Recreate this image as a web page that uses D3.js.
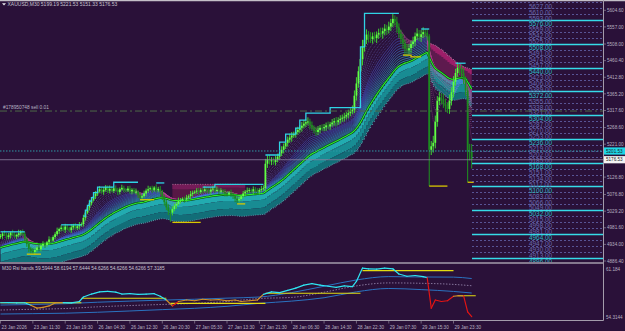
<!DOCTYPE html>
<html>
<head>
<meta charset="utf-8">
<script src="https://cdn.jsdelivr.net/npm/d3@7"></script>
<style>
  html, body { margin: 0; padding: 0; background: #2a1139; }
  svg { display: block; font-family: "Liberation Sans", Arial, sans-serif; }
</style>
</head>
<body>
<div id="chart"></div>
<script>
// ---- data (XAUUSD M30) ----
const firstOpen = 4955;
const closes = [
  4958, 4965, 4962, 4955, 4960, 4968, 4963, 4957, 4961, 4966, 4970, 4964,
  4950, 4935, 4922, 4915, 4912,
  4918, 4925, 4920, 4930, 4935,
  4932, 4940, 4948, 4945, 4955, 4963, 4972,
  4978, 4982, 4976, 4985, 4980, 4975, 4983, 4988, 4981, 4986, 4990, 4992,
  5010, 5025, 5040, 5052, 5062, 5072, 5080,
  5086, 5092, 5085, 5090, 5098, 5088, 5093, 5087, 5095, 5090, 5084, 5092, 5096, 5091, 5089, 5094, 5086, 5090, 5083, 5085,
  5075, 5068, 5072, 5080,
  5088, 5092, 5095, 5090, 5097, 5089, 5093, 5085,
  5070, 5055, 5040, 5030, 5025, 5035, 5045,
  5050, 5058, 5060, 5065, 5062, 5068, 5072,
  5078, 5082, 5085, 5088, 5084, 5090, 5087, 5092, 5089, 5085, 5091, 5094, 5088, 5090, 5086, 5088,
  5084, 5080, 5078, 5082, 5076, 5072, 5065, 5060, 5064, 5072,
  5080, 5085, 5088, 5090, 5086, 5092, 5088, 5085, 5090, 5093,
  5095,
  5165, 5178, 5172, 5175,
  5170, 5176, 5185, 5195,
  5205, 5215, 5225, 5234, 5240, 5246, 5250,
  5256, 5262, 5268, 5274, 5280, 5284, 5286,
  5276, 5268, 5262, 5256, 5262, 5268,
  5267, 5270, 5275, 5272, 5278, 5283, 5287, 5284, 5290, 5294,
  5297, 5300, 5305, 5310, 5315, 5320,
  5360, 5395, 5430, 5465, 5500,
  5520, 5535, 5528, 5522, 5530, 5525, 5535, 5540, 5538,
  5545, 5552, 5548, 5558, 5568, 5580, 5572,
  5555, 5538, 5522, 5510, 5495, 5490,
  5496, 5508, 5515, 5530, 5538, 5528,
  5536, 5542, 5540, 5530,
  5205,
  5215, 5225, 5285,
  5345, 5355, 5350, 5338, 5330,
  5322, 5345, 5370,
  5400, 5425, 5440,
  5436, 5425, 5405,
  5375, 5200, 5199.19, 5176.53
];
const upTail = [
  6,4,9,5,7,3,8,6,4,10,5,7,6,4,8,5,9,6,4,7,
  5,8,6,4,9,7,5,6,10,4,7,5,8,6,4,9,5,7,6,8,
  5,9,7,6,10,8,5,7,6,9,4,8,6,5,10,7,4,8,6,5,
  9,6,4,7,8,5,6,9,4,7,5,8,6,10,5,7,4,9,6,8,
  5,7,6,9,4,8,6,5,10,7,4,6,8,5,9,6,4,7,8,5,
  6,9,4,7,5,8,6,10,5,7,4,8,6,5,9,7,4,6,8,5,
  7,5,9,6,4,8,6,7,5,9,8,14,10,12,9,8,11,9,12,10,
  8,12,9,11,10,7,12,9,8,11,10,9,12,8,10,7,9,11,8,10,
  9,8,11,7,10,9,12,8,10,9,11,8,10,9,12,15,18,14,16,20,
  12,15,10,14,11,13,9,12,15,10,13,11,14,12,16,10,14,12,11,15,
  10,13,12,9,14,11,15,10,12,14,9,11,6,15,20,18,14,16,12,15,
  13,11,18,14,16,12,15,13,11,14,10,12,22,22.34
];
const downTail = [
  5,8,4,7,6,9,5,4,8,6,7,5,9,8,10,9,6,9,6,5,
  6,4,8,5,7,9,4,6,5,8,7,4,9,6,5,8,7,4,6,9,
  5,7,8,4,9,6,5,8,7,4,6,9,5,7,8,4,6,5,9,7,
  4,8,6,5,7,9,4,6,8,9,7,5,8,6,4,9,5,7,6,8,
  9,10,8,12,27,8,6,9,5,7,4,8,6,5,9,7,4,6,8,5,
  7,4,8,6,9,5,7,4,8,6,5,9,7,4,6,8,10,10,6,5,
  6,8,5,7,4,9,6,5,8,7,6,10,12,9,11,8,10,7,9,8,
  10,8,11,9,12,7,10,8,9,11,8,10,9,12,8,10,11,9,10,8,
  9,11,8,10,7,9,12,8,10,9,11,8,10,9,8,10,14,12,15,18,
  14,12,15,11,13,10,14,12,11,15,12,14,10,13,12,11,15,13,14,16,
  18,19,12,14,11,13,10,12,14,11,13,12,104,15,18,16,14,12,15,13,
  16,12,14,13,15,12,11,14,13,12,15,88,25,25.2
];

const timeLabels = ["23 Jan 2026", "23 Jan 11:30", "23 Jan 19:30", "26 Jan 04:30", "26 Jan 12:30",
  "26 Jan 20:30", "27 Jan 05:30", "27 Jan 13:30", "27 Jan 21:30", "28 Jan 06:30", "28 Jan 14:30",
  "28 Jan 22:30", "29 Jan 07:30", "29 Jan 15:30", "29 Jan 23:30"];
const priceTicks = [5604.6, 5557.0, 5508.0, 5460.4, 5412.8, 5365.2, 5317.6, 5268.6, 5221.0,
  5126.8, 5076.8, 5029.2, 4981.6, 4934.0, 4886.4];

// grid levels drawn on the right (every 17, the bold ones every 68)
const gridLevels = [4896, 4913, 4930, 4947, 4964, 4981, 4998, 5015, 5032, 5049, 5066, 5083, 5100,
  5117, 5134, 5151, 5168, 5185, 5202, 5219, 5236, 5253, 5270, 5287, 5304, 5321, 5338, 5355, 5372,
  5389, 5406, 5423, 5440, 5457, 5474, 5491, 5508, 5525, 5542, 5559, 5576, 5593, 5610, 5627];
const majorLevels = [4896, 4964, 5032, 5100, 5168, 5236, 5304, 5372, 5440, 5508, 5576];

// channel steps [fromBar, toBar, price]
const cyanSteps = [
  [0, 12, 4970], [30, 40, 4990], [41, 42, 5015], [42, 43, 5032], [43, 44, 5046], [44, 45, 5058],
  [45, 46, 5068], [46, 48, 5082], [48, 56, 5098], [56, 68, 5112], [77, 81, 5110],
  [100, 106, 5098], [106, 130, 5106], [131, 138, 5190], [138, 141, 5227], [141, 146, 5250],
  [146, 148, 5267], [148, 151, 5290], [151, 163, 5310], [163, 178, 5326], [178, 180, 5500],
  [180, 197, 5596], [208, 212, 5551], [225, 230, 5453]
];
const yellowSteps = [
  [13, 20, 4906], [69, 76, 5062], [85, 99, 4997], [117, 121, 5050], [199, 203, 5476],
  [203, 208, 5471], [212, 221, 5101], [231, 234, 5112]
];
// resistance cloud tops [bar, price]
const cloudA = [[85, 5106], [121, 5106]];
const cloudB = [[212, 5510], [214, 5505], [216, 5498], [218, 5490], [220, 5480], [222, 5470],
  [224, 5460], [226, 5452], [228, 5445], [230, 5440], [232, 5435], [233, 5432]];

const ribbonSeed = 4923;
const ribbonPeriods = [4, 6, 8, 10, 12, 14, 16, 18, 20, 22, 24, 26, 28, 30, 32, 34, 36, 38];
const slowPeriod = 40;
const bandWidth = 60;

const askPrice = 5201.53, bidPrice = 5176.53, sellPrice = 5316;

// RSI sub-window
const rsiBars = [0,4,8,12,15,18,21,24,27,31,35,39,41,45,49,53,57,60,64,68,72,76,79,82,85,88,92,96,100,
  104,108,112,116,119,123,127,130,134,138,142,146,150,154,158,162,166,170,174,176,179,182,186,190,194,
  197,201,205,209,211,213,215,218,221,224,227,229,231,233];
const rsiValues = [56.33,56.35,56.30,56.32,56.0,55.6,55.7,55.9,56.3,56.35,56.3,56.5,57.1,57.5,57.8,57.85,
  57.75,57.5,57.55,57.45,57.5,57.55,57.2,56.7,55.9,56.5,56.7,56.6,56.8,56.7,56.75,56.6,56.7,56.5,56.6,
  56.7,57.45,57.8,57.7,58.0,58.3,58.7,58.9,58.7,58.55,58.4,58.6,58.5,59.2,61.0,60.9,60.85,61.0,60.9,
  60.2,59.9,60.0,59.85,59.7,55.6,56.7,56.5,56.6,57.2,57.3,57.25,55.1,54.45];
const rsiStates = [[0, 14, "up"], [14, 29, "mid"], [29, 81, "up"], [81, 84, "mid"], [84, 88, "down"],
  [88, 130, "mid"], [130, 211, "up"], [211, 222, "down"], [222, 229, "mid"], [229, 234, "down"]];
const rsiLevels = [[0, 40, 56.33], [40, 82, 56.93], [84, 131, 56.25], [131, 178, 57.60],
  [179, 224, 60.65], [226, 235, 57.28]];
const bandBars = [0, 16, 32, 48, 64, 80, 96, 112, 128, 144, 160, 176, 192, 208, 224, 233];
const bandUpper = [56.02, 56.10, 56.20, 56.40, 56.55, 56.68, 56.80, 56.95, 57.10, 57.70, 58.55, 59.40, 59.85, 59.80, 59.78, 59.59];
const bandMiddle = [55.35, 55.45, 55.55, 55.78, 55.95, 56.10, 56.25, 56.50, 56.90, 57.05, 57.75, 58.60, 59.00, 58.95, 58.80, 58.62];
const bandLower = [54.81, 54.86, 54.92, 55.05, 55.22, 55.40, 55.58, 55.85, 56.25, 56.55, 57.00, 57.80, 58.25, 58.10, 57.85, 57.64];

// ---- chart ----
const width = 625, height = 331;
const plotRight = 603, mainTop = 2, mainBottom = 262, subTop = 264, subBottom = 320.5;

const svg = d3.select("#chart").append("svg")
  .attr("width", width).attr("height", height)
  .attr("viewBox", [0, 0, width, height]);

svg.append("rect").attr("width", width).attr("height", height).attr("fill", "#2a1139");

const x = d3.scaleLinear().domain([0, 224]).range([0.5, 453.5]);
const y = d3.scaleLinear().domain([4886.4, 5604.6]).range([261, 10.3]);
const ys = d3.scaleLinear().domain([54.3144, 61.184]).range([317.7, 266.7]);

svg.append("clipPath").attr("id", "clipMain")
  .append("rect").attr("x", 0).attr("y", mainTop).attr("width", plotRight).attr("height", mainBottom - mainTop);
svg.append("clipPath").attr("id", "clipSub")
  .append("rect").attr("x", 0).attr("y", subTop).attr("width", plotRight).attr("height", subBottom - subTop);

const main = svg.append("g").attr("clip-path", "url(#clipMain)");

// bars
const bars = closes.map((c, i) => {
  const o = i ? closes[i - 1] : firstOpen;
  return { i, o, c, h: Math.max(o, c) + upTail[i], l: Math.min(o, c) - downTail[i] };
});

function ema(period) {
  const a = 2 / (period + 1);
  let e = ribbonSeed;
  return closes.map(c => (e = e + a * (c - e)));
}
const slow = ema(slowPeriod);

// teal band under the slow line
const bandLayers = [
  { top: 0, bot: 0.3, fill: "#22abb0" },
  { top: 0.3, bot: 0.68, fill: "#188c93" },
  { top: 0.68, bot: 1, fill: "#126e78" }
];
bandLayers.forEach(L => {
  main.append("path")
    .attr("fill", L.fill)
    .attr("d", d3.area()
      .x((d, i) => x(i))
      .y0((d) => y(d - bandWidth * L.bot))
      .y1((d) => y(d - bandWidth * L.top))
      .curve(d3.curveStepAfter)(slow));
});
main.append("path")
  .attr("fill", "none").attr("stroke", "#6aa6b4").attr("stroke-width", 0.8).attr("stroke-dasharray", "1,1.5")
  .attr("d", d3.line().x((d, i) => x(i)).y(d => y(d - bandWidth)).curve(d3.curveStepAfter)(slow));

// resistance clouds
[[cloudA, "#571845", "#7a1c5c"], [cloudB, "#5e1a4e", "#a8206f"]].forEach(([pts, base, hi]) => {
  const from = pts[0][0], to = pts[pts.length - 1][0];
  const topAt = d3.scaleLinear().domain(pts.map(p => p[0])).range(pts.map(p => p[1]));
  const idx = d3.range(from, to + 1);
  main.append("path")
    .attr("fill", base)
    .attr("d", d3.area().x(i => x(i)).y0(i => y(slow[i])).y1(i => y(topAt(i))).curve(d3.curveStepAfter)(idx));
  main.append("path")
    .attr("fill", hi).attr("opacity", 0.85)
    .attr("d", d3.area().x(i => x(i)).y0(i => y(topAt(i) - (topAt(i) - slow[i]) * 0.3)).y1(i => y(topAt(i))).curve(d3.curveStepAfter)(idx));
  main.append("path")
    .attr("fill", "none").attr("stroke", "#b48aa8").attr("stroke-width", 0.8).attr("stroke-dasharray", "1,1.5")
    .attr("d", d3.line().x(i => x(i)).y(i => y(topAt(i))).curve(d3.curveStepAfter)(idx));
});

// ribbon of moving averages
const upColor = d3.scaleLinear().domain([0, 0.45, 1]).range(["#a49ce6", "#4a62e6", "#27bfd0"]);
const downColor = d3.scaleLinear().domain([0, 1]).range(["#e46ab8", "#9a2a7c"]);
ribbonPeriods.forEach((p, k) => {
  const e = ema(p);
  const t = k / (ribbonPeriods.length - 1);
  let run = [0], dir = Math.sign(e[1] - e[0]) || 1;
  const flush = () => {
    if (run.length < 2) return;
    main.append("path")
      .attr("fill", "none")
      .attr("stroke", dir >= 0 ? upColor(t) : downColor(t))
      .attr("stroke-width", 0.7).attr("stroke-opacity", 0.5 + 0.4 * t)
      .attr("stroke-dasharray", t < 0.4 ? "1,1" : null)
      .attr("d", d3.line().x(i => x(i)).y(i => y(e[i]))(run));
  };
  for (let i = 1; i < e.length; i++) {
    const s = Math.sign(e[i] - e[i - 1]) || dir;
    if (s !== dir) { flush(); run = [i - 1]; dir = s; }
    run.push(i);
  }
  flush();
});

// slow line
main.append("path")
  .attr("fill", "none").attr("stroke", "#0b3a12").attr("stroke-width", 2.2)
  .attr("d", d3.line().x((d, i) => x(i)).y(d => y(d))(slow));
main.append("path")
  .attr("fill", "none").attr("stroke", "#2cf02c").attr("stroke-width", 1.1)
  .attr("d", d3.line().x((d, i) => x(i)).y(d => y(d))(slow));

// candles
const candle = main.append("g");
candle.selectAll("line").data(bars).join("line")
  .attr("x1", d => x(d.i)).attr("x2", d => x(d.i))
  .attr("y1", d => y(d.h)).attr("y2", d => y(d.l))
  .attr("stroke", d => d.c >= d.o ? "#3fd232" : "#1f951f")
  .attr("stroke-width", 1);
candle.selectAll("rect").data(bars).join("rect")
  .attr("x", d => x(d.i) - 0.9).attr("width", 1.8)
  .attr("y", d => y(Math.max(d.o, d.c)))
  .attr("height", d => Math.max(1, Math.abs(y(d.o) - y(d.c))))
  .attr("fill", d => d.c >= d.o ? "#62ff44" : "#1c8a20");

// channel step lines
function drawSteps(steps, color) {
  const runs = [];
  steps.forEach(s => {
    const last = runs[runs.length - 1];
    if (last && last[last.length - 1][1] === s[0]) last.push(s);
    else runs.push([s]);
  });
  runs.forEach(r => {
    const pts = [];
    r.forEach(s => { pts.push([s[0], s[2]]); pts.push([s[1], s[2]]); });
    main.append("path")
      .attr("fill", "none").attr("stroke", color).attr("stroke-width", 1.3)
      .attr("d", d3.line().x(p => x(p[0])).y(p => y(p[1]))(pts));
  });
}
drawSteps(cyanSteps, "#2fd3e4");
drawSteps(yellowSteps, "#d9c800");

// grid levels on the right
const levelX0 = 472;
main.selectAll(".lvl").data(gridLevels).join("line")
  .attr("x1", levelX0).attr("x2", plotRight)
  .attr("y1", d => Math.round(y(d)) + 0.5).attr("y2", d => Math.round(y(d)) + 0.5)
  .attr("stroke", d => majorLevels.includes(d) ? "#36dbe8" : "#6466ad")
  .attr("stroke-width", d => majorLevels.includes(d) ? 1.3 : 0.8)
  .attr("stroke-dasharray", d => majorLevels.includes(d) ? null : "2,2");
main.selectAll(".lvlTxt").data(gridLevels).join("text")
  .attr("x", 529).attr("y", d => y(d) + 6.2)
  .attr("font-size", 6.4)
  .attr("fill", d => majorLevels.includes(d) ? "#2fbcc6" : "#6a6cb0")
  .text(d => d.toFixed(2));

// order / bid / ask lines
main.append("line").attr("x1", 0).attr("x2", plotRight)
  .attr("y1", y(sellPrice)).attr("y2", y(sellPrice))
  .attr("stroke", "#4d6a48").attr("stroke-dasharray", "7,3,2,3");
main.append("text").attr("x", 3).attr("y", y(sellPrice) - 2.5)
  .attr("font-size", 4.8).attr("fill", "#b9b4c4").text("#178950748 sell 0.01");
main.append("line").attr("x1", 0).attr("x2", plotRight)
  .attr("y1", y(askPrice)).attr("y2", y(askPrice))
  .attr("stroke", "#2f98a6").attr("stroke-dasharray", "1.5,1.5");
main.append("line").attr("x1", 0).attr("x2", plotRight)
  .attr("y1", y(bidPrice)).attr("y2", y(bidPrice))
  .attr("stroke", "#8c80a0").attr("stroke-width", 0.8);

// ---- RSI sub-window ----
const sub = svg.append("g").attr("clip-path", "url(#clipSub)");
const bandLine = d3.line().x((d, i) => x(bandBars[i])).y(d => ys(d)).curve(d3.curveMonotoneX);
sub.append("path").attr("fill", "none").attr("stroke", "#2b73c0").attr("stroke-width", 1).attr("d", bandLine(bandUpper));
sub.append("path").attr("fill", "none").attr("stroke", "#2b73c0").attr("stroke-width", 1).attr("d", bandLine(bandLower));
sub.append("path").attr("fill", "none").attr("stroke", "#8f7fa6").attr("stroke-width", 0.9)
  .attr("stroke-dasharray", "1.5,1.5").attr("d", bandLine(bandMiddle));

rsiLevels.forEach(l => {
  sub.append("line").attr("x1", x(l[0])).attr("x2", x(l[1]))
    .attr("y1", ys(l[2])).attr("y2", ys(l[2]))
    .attr("stroke", "#e2dc10").attr("stroke-width", 1.1);
});
const stateColor = { up: "#2ee6f2", mid: "#d0922a", down: "#e31414" };
const stateAt = b => rsiStates.find(s => b >= s[0] && b < s[1])[2];
for (let k = 1; k < rsiBars.length; k++) {
  sub.append("line")
    .attr("x1", x(rsiBars[k - 1])).attr("y1", ys(rsiValues[k - 1]))
    .attr("x2", x(rsiBars[k])).attr("y2", ys(rsiValues[k]))
    .attr("stroke", stateColor[stateAt(rsiBars[k - 1])])
    .attr("stroke-width", 1.2).attr("stroke-linecap", "round");
}

// ---- frame, axes and texts ----
const frame = "#a39cab";
svg.append("line").attr("x1", 0).attr("x2", width).attr("y1", 0.5).attr("y2", 0.5).attr("stroke", "#c4c0c8").attr("stroke-width", 1.4);
svg.append("line").attr("x1", 0).attr("x2", plotRight).attr("y1", 263).attr("y2", 263).attr("stroke", frame).attr("stroke-width", 1.6);
svg.append("line").attr("x1", 0).attr("x2", plotRight + 0.5).attr("y1", subBottom).attr("y2", subBottom).attr("stroke", frame);
svg.append("line").attr("x1", plotRight + 0.5).attr("x2", plotRight + 0.5).attr("y1", 0).attr("y2", subBottom).attr("stroke", frame);

const axisText = "#b8b0c0";
svg.selectAll(".pt").data(priceTicks).join("text")
  .attr("x", 607).attr("y", d => y(d) + 1.7)
  .attr("font-size", 4.6).attr("fill", axisText)
  .text(d => d.toFixed(2));
svg.selectAll(".ptk").data(priceTicks).join("line")
  .attr("x1", plotRight).attr("x2", plotRight + 3)
  .attr("y1", d => y(d)).attr("y2", d => y(d)).attr("stroke", frame).attr("stroke-width", 0.6);

// bid / ask boxes
[[askPrice, "#1fd6e6"], [bidPrice, "#f4f4f4"]].forEach(([p, fill]) => {
  svg.append("rect").attr("x", plotRight + 1).attr("y", y(p) - 3.6).attr("width", 21).attr("height", 7.2).attr("fill", fill);
  svg.append("text").attr("x", 606).attr("y", y(p) + 1.7).attr("font-size", 4.6).attr("fill", "#1a1a1a").text(p.toFixed(2));
});

svg.append("text").attr("x", 606).attr("y", 270.5).attr("font-size", 4.6).attr("fill", axisText).text("61.184");
svg.append("text").attr("x", 606).attr("y", 319).attr("font-size", 4.6).attr("fill", axisText).text("54.3144");

// time axis
svg.selectAll(".tt").data(timeLabels).join("text")
  .attr("x", (d, i) => x(i * 16) + 1).attr("y", 328.5)
  .attr("font-size", 4.6).attr("fill", axisText)
  .text(d => d);
svg.selectAll(".ttk").data(timeLabels).join("line")
  .attr("x1", (d, i) => x(i * 16)).attr("x2", (d, i) => x(i * 16))
  .attr("y1", subBottom).attr("y2", subBottom + 3).attr("stroke", frame).attr("stroke-width", 0.6);

// header texts
svg.append("path").attr("d", "M2,3.2 L6,3.2 L4,5.6 Z").attr("fill", "#e8e8ee");
svg.append("text").attr("x", 7.5).attr("y", 5.8).attr("font-size", 5).attr("fill", "#c8c4d0")
  .text("XAUUSD,M30  5199.19 5221.53 5151.33 5176.53");
svg.append("text").attr("x", 2).attr("y", 269.5).attr("font-size", 4.8).attr("fill", "#c8c4d0")
  .text("M30 Rsi bands 59.5944 58.6194 57.6444 54.6266 54.6266 54.6266 57.3185");
</script>
</body>
</html>
